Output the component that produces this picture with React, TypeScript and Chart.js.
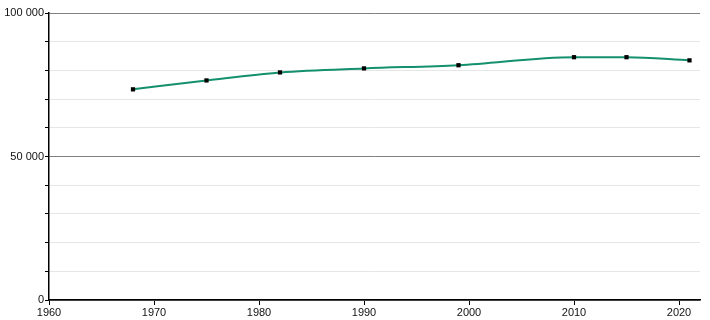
import React, { useEffect, useRef } from "react";
import { Chart, registerables } from "chart.js";

Chart.register(...registerables);

const years = [1968, 1975, 1982, 1990, 1999, 2010, 2015, 2021];
const population = [73400, 76500, 79300, 80700, 81800, 84600, 84600, 83500];
const majorTicks = [0, 50000, 100000];
const xTicks = [1960, 1970, 1980, 1990, 2000, 2010, 2020];

function fmt(v: number): string {
  return String(v).replace(/\B(?=(\d{3})+(?!\d))/g, " ");
}

export default function App() {
  const ref = useRef<HTMLCanvasElement | null>(null);
  useEffect(() => {
    if (!ref.current) return;
    const chart = new Chart(ref.current, {
      type: "line",
      data: {
        datasets: [
          {
            data: years.map((y, i) => ({ x: y, y: population[i] })),
            borderColor: "#14906e",
            borderWidth: 2,
            cubicInterpolationMode: "monotone",
            pointStyle: "rect",
            pointRadius: 3,
            pointBackgroundColor: "#000",
            pointBorderColor: "#000",
            pointBorderWidth: 0,
            fill: false,
          },
        ],
      },
      options: {
        animation: false,
        responsive: true,
        maintainAspectRatio: false,
        layout: { padding: { top: 13, right: 10, left: 0, bottom: 0 } },
        plugins: { legend: { display: false }, tooltip: { enabled: false } },
        scales: {
          x: {
            type: "linear",
            min: 1960,
            max: 2022,
            afterBuildTicks: (s: any) => {
              s.ticks = xTicks.map((v) => ({ value: v }));
            },
            afterFit: (s: any) => {
              s.height = 20;
            },
            grid: {
              display: true,
              drawOnChartArea: false,
              drawTicks: true,
              tickLength: 5,
              tickColor: "#000",
            },
            border: { display: true, color: "#000", width: 1.5 },
            ticks: {
              color: "#111",
              font: { family: "'Liberation Sans', Arial, sans-serif", size: 11 },
              padding: 1,
              maxRotation: 0,
              callback: (v: any) => String(v),
            },
          },
          y: {
            type: "linear",
            min: 0,
            max: 100000,
            afterBuildTicks: (s: any) => {
              const t: any[] = [];
              for (let v = 0; v <= 100000; v += 10000) t.push({ value: v });
              s.ticks = t;
            },
            afterFit: (s: any) => {
              s.width = 49;
            },
            grid: {
              color: (ctx: any) =>
                majorTicks.includes(ctx.tick?.value) ? "#808080" : "#e6e6e6",
              lineWidth: 1,
              drawTicks: true,
              tickLength: 4,
              tickColor: "#000",
            },
            border: { display: true, color: "#000", width: 1.5 },
            ticks: {
              color: "#111",
              font: { family: "'Liberation Sans', Arial, sans-serif", size: 11 },
              padding: 1,
              autoSkip: false,
              callback: (v: any) => (majorTicks.includes(v) ? fmt(v) : ""),
            },
          },
        },
      },
    });
    return () => chart.destroy();
  }, []);
  return (
    <div style={{ position: "fixed", left: 0, top: 0, width: 710, height: 320, background: "#fff" }}>
      <canvas ref={ref} />
    </div>
  );
}
